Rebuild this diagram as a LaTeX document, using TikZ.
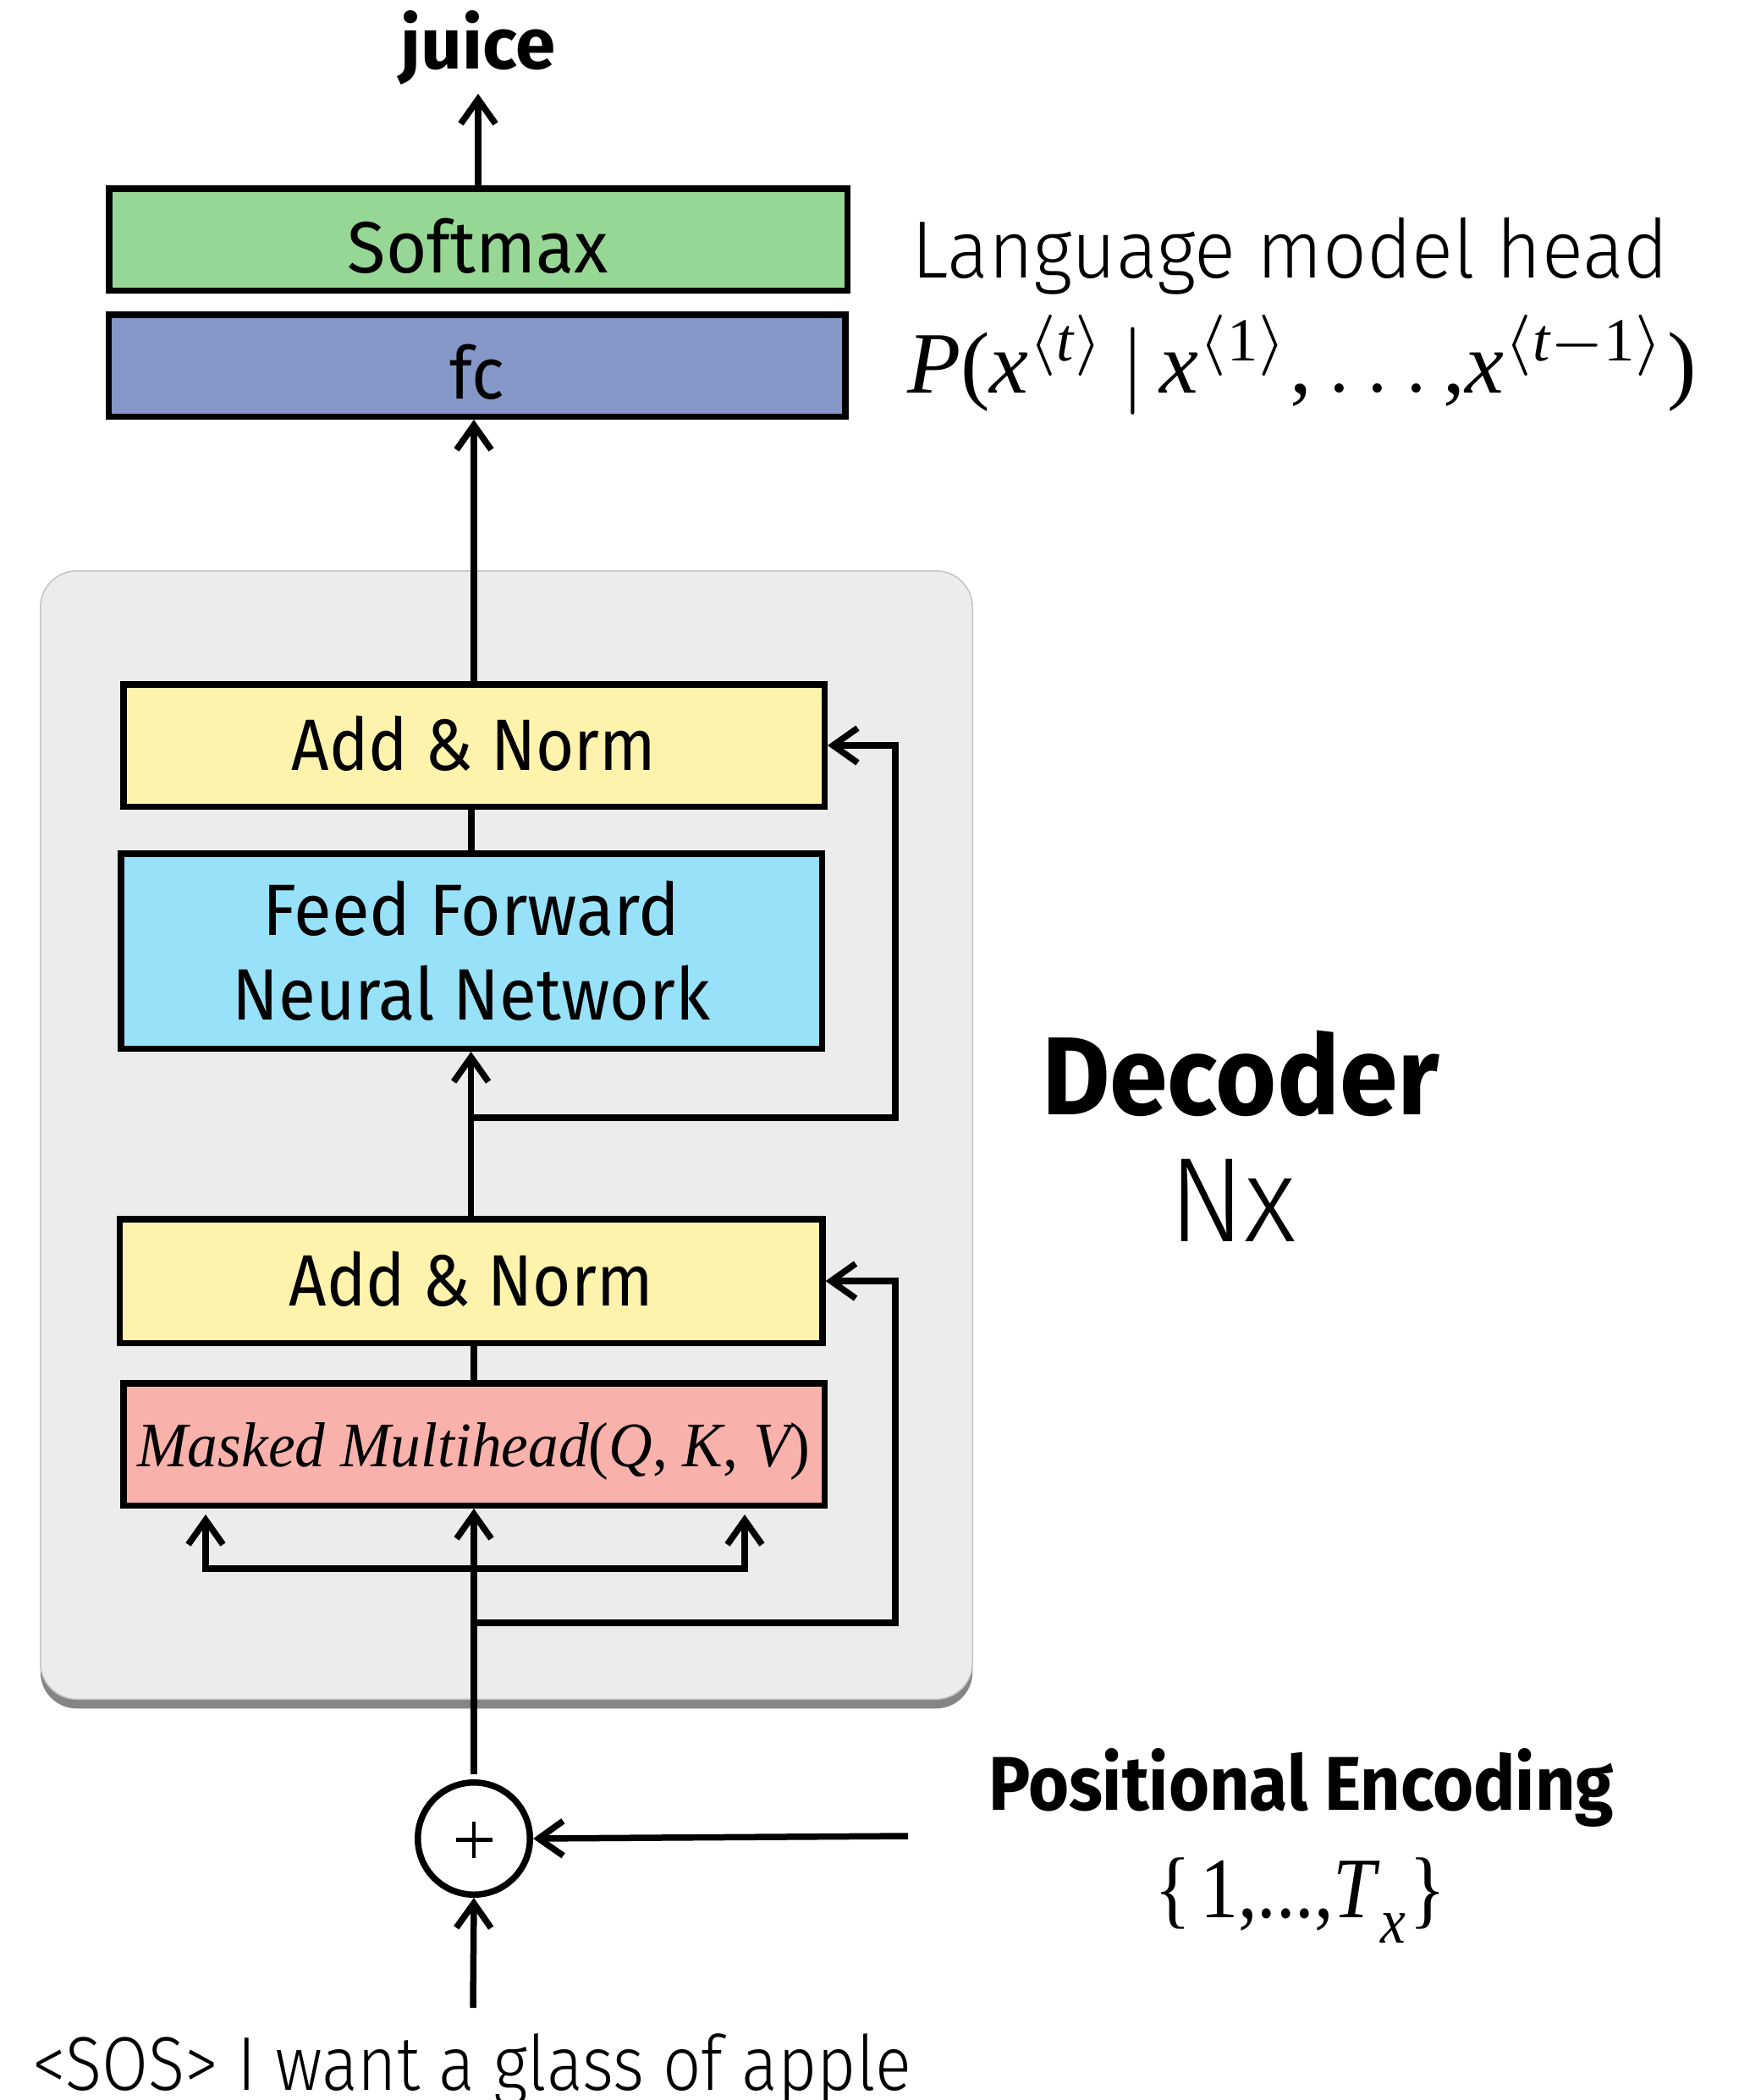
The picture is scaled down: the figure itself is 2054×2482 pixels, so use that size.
\documentclass[tikz,border=0pt]{standalone}
\usepackage[no-math]{fontspec}
\usepackage{amsmath}
\usepackage{graphicx}
\setmainfont{Fira Sans}
\newfontfamily\lightsans{Fira Sans Light}
\newfontfamily\tms{Liberation Serif}
\usetikzlibrary{arrows.meta,shadows}

\definecolor{smgreen}{HTML}{97D795}
\definecolor{fcblue}{HTML}{8497C6}
\definecolor{anyellow}{HTML}{FDF3AD}
\definecolor{ffcyan}{HTML}{98E2F9}
\definecolor{mhred}{HTML}{F9B2AB}
\definecolor{panelgray}{HTML}{ECECEC}
\definecolor{paneledge}{HTML}{C4C4C4}
\definecolor{shadowgray}{HTML}{858585}

% serif italic / upright pieces for the formulas
\newcommand{\tv}[1]{\text{\tms\itshape #1}}
\newcommand{\tr}[1]{\text{\tms #1}}
% set a text to a given width, keeping its height
\newcommand{\fitto}[2]{\resizebox{#1}{\height}{#2}}

\begin{document}
\begin{tikzpicture}[x=1pt,y=-1pt,
  box/.style={draw, line width=7.5pt, inner sep=0pt},
  lbl/.style={inner sep=0pt, outer sep=0pt, anchor=base},
  ln/.style={line width=7.5pt},
  tipa/.tip={Straight Barb[length=29pt,width=41pt]},
  arr/.style={line width=7.5pt, -tipa},
  boxfont/.style={font=\fontsize{86pt}{100pt}\selectfont},
]
\useasboundingbox (0,0) rectangle (2054,2482);

% decoder panel
\node[fill=panelgray, draw=paneledge, line width=1.5pt, rounded corners=43pt,
      minimum width=1101.5pt, minimum height=1333.5pt, inner sep=0pt,
      drop shadow={shadow xshift=0pt, shadow yshift=-11pt, fill=shadowgray, opacity=1}]
      (dec) at (598.5,1341.5) {};

% language model head
\node[lbl, font=\bfseries\fontsize{85pt}{100pt}\selectfont] (out) at (565,81) {\fitto{183pt}{juice}};
\node[box, fill=smgreen, boxfont, minimum width=872.5pt, minimum height=120.5pt,
      text height=78pt, text depth=0pt] (sm) at (565,283) {\fitto{308pt}{Softmax}};
\node[box, fill=fcblue, boxfont, minimum width=870.5pt, minimum height=120.5pt,
      text height=78pt, text depth=0pt] (fc) at (563.5,432) {\fitto{65pt}{fc}};
\node[lbl, anchor=base west, font=\lightsans\fontsize{96pt}{110pt}\selectfont] (lmh) at (1077,328)
      {\fitto{895pt}{Language model head}};
\node[lbl, anchor=base west] (prob) at (1072,464)
      {\resizebox{933pt}{!}{$\tv{P}\tr{(}\tv{x}^{\langle\tv{t}\rangle}\,|\,\tv{x}^{\langle\tr{1}\rangle}\tr{,}\ldots\tr{,}\tv{x}^{\langle\tv{t}-\tr{1}\rangle}\tr{)}$}};

% decoder blocks
\node[box, fill=anyellow, boxfont, minimum width=828.5pt, minimum height=144.5pt,
      text height=59pt, text depth=0pt] (an1) at (560,881) {\fitto{430pt}{Add \& Norm}};
\node[box, fill=ffcyan, boxfont, minimum width=828.5pt, minimum height=230.5pt, align=center]
      (ffn) at (557,1124) {\fitto{493pt}{Feed Forward}\\\fitto{565pt}{Neural Network}};
\node[box, fill=anyellow, boxfont, minimum width=830.5pt, minimum height=146.5pt,
      text height=59pt, text depth=0pt] (an2) at (556.6,1514) {\fitto{430pt}{Add \& Norm}};
\node[box, fill=mhred, font=\fontsize{75pt}{80pt}\selectfont, minimum width=828.5pt, minimum height=144.5pt,
      text height=53pt, text depth=0pt] (mh) at (560,1707)
      {\fitto{795pt}{\tms\itshape Masked\hspace{0.25em}Multihead{\upshape(}Q{\upshape,} K{\upshape,} V{\upshape)}}};

\node[lbl, font=\bfseries\fontsize{131pt}{150pt}\selectfont] (dect) at (1466,1317) {\fitto{470pt}{Decoder}};
\node[lbl, font=\lightsans\fontsize{142pt}{160pt}\selectfont] (nx) at (1456.5,1467) {\fitto{151pt}{Nx}};

% input side
\node[draw, circle, line width=7.5pt, minimum size=132.5pt, inner sep=0pt] (add) at (560,2173) {};
\draw[line width=4.5pt] ([xshift=-21.5pt,yshift=-1.5pt]add.center) -- ([xshift=21.5pt,yshift=-1.5pt]add.center);
\draw[line width=4.5pt] ([yshift=20pt]add.center) -- ([yshift=-23pt]add.center);

\node[lbl, font=\bfseries\fontsize{90pt}{100pt}\selectfont] (pe) at (1537.5,2139) {\fitto{739pt}{Positional Encoding}};
\node[lbl, font=\tms\fontsize{102pt}{110pt}\selectfont] (tx) at (1536.5,2266)
      {\fitto{345pt}{\{\hspace{0.12em}1,...,\textit{T}\raisebox{-0.3em}{\fontsize{76pt}{80pt}\selectfont\textit{x}}\hspace{0.05em}\}}};
\node[lbl, anchor=base west, font=\lightsans\fontsize{90pt}{100pt}\selectfont] (sos) at (38,2470)
      {\fitto{1039pt}{<SOS> I want a glass of apple}};

\coordinate (pein) at (1073,2170);
\coordinate (sosin) at (559,2373);
\coordinate (r1c) at (1058,1321);
\coordinate (r2c) at (1058,1918);
\coordinate (qk) at (243,1854);
\coordinate (qv) at (880,1854);

% connectors
\draw[arr, shorten >=11pt] (sm.north) -- (sm.north |- out.south);
\draw[arr] (an1.north) -- (an1.north |- fc.south);
\draw[ln] (ffn.north) -- (ffn.north |- an1.south);
\draw[arr] (an2.north) -- (an2.north |- ffn.south);
\draw[ln] (mh.north) -- (mh.north |- an2.south);
\draw[arr, shorten <=6pt] (add.north) -- (add.north |- mh.south);
\draw[arr] (an2.north |- r1c) -- (r1c) |- (an1.east);
\draw[arr] (add.north |- r2c) -- (r2c) |- (an2.east);
\draw[line width=7.5pt, tipa-tipa, shorten <=7pt, shorten >=7pt]
      (qk |- mh.south) -- (qk) -- (qv) -- (qv |- mh.south);
\draw[arr] (pein) -- (add.east);
\draw[arr] (sosin) -- (add.south);
\end{tikzpicture}
\end{document}
